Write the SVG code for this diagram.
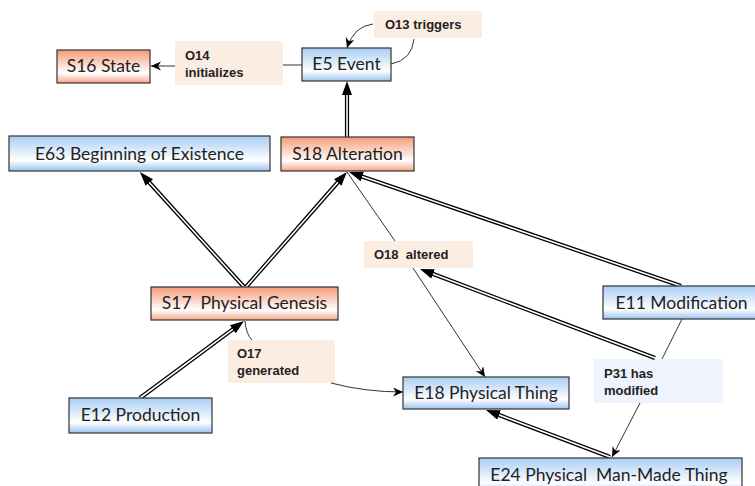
<svg xmlns="http://www.w3.org/2000/svg" width="755" height="486" viewBox="0 0 755 486">
  <defs>
    <linearGradient id="gBlue" x1="0" y1="0" x2="0" y2="1">
      <stop offset="0" stop-color="#a9cdf3"/>
      <stop offset="0.7" stop-color="#ffffff"/>
      <stop offset="1" stop-color="#9ac3ef"/>
    </linearGradient>
    <linearGradient id="gOrange" x1="0" y1="0" x2="0" y2="1">
      <stop offset="0" stop-color="#f59b78"/>
      <stop offset="0.7" stop-color="#ffffff"/>
      <stop offset="1" stop-color="#f4a585"/>
    </linearGradient>
    <marker id="headBig" markerUnits="userSpaceOnUse" markerWidth="16" markerHeight="12" viewBox="0 0 16 12" refX="2" refY="5" orient="auto">
      <path d="M0,0 L14,5 L0,10 z" fill="#000"/>
    </marker>
    <marker id="headThin" markerUnits="userSpaceOnUse" markerWidth="12" markerHeight="10" viewBox="0 0 12 10" refX="10" refY="4.5" orient="auto">
      <path d="M0,0 L10,4.5 L0,9 L3,4.5 z" fill="#000"/>
    </marker>
  </defs>
  <style>
    .box { stroke: #333; stroke-width: 1.2; }
    .blue { fill: url(#gBlue); }
    .orange { fill: url(#gOrange); }
    .nt { font-family: Lato, "Open Sans", sans-serif; font-size: 17.5px; fill: #222; text-anchor: middle; }
    .lbl { fill: #fcede2; }
    .lblb { fill: #eef3fd; }
    .lt { font-family: "Liberation Sans", Arial, sans-serif; font-size: 13px; font-weight: bold; fill: #222; }
    .outer { fill: none; stroke: #000; stroke-width: 4.2; }
    .inner { fill: none; stroke: #fff; stroke-width: 1.6; marker-end: url(#headBig); }
    .thin { fill: none; stroke: #333; stroke-width: 1; }
    .thinA { fill: none; stroke: #333; stroke-width: 1; marker-end: url(#headThin); }
  </style>

  <!-- relation labels -->
  <g id="lbl-o14"><rect class="lbl" x="175" y="41" width="108" height="44"/><text class="lt" x="185" y="60">O14</text><text class="lt" x="185" y="77">initializes</text></g>
  <g id="lbl-o13"><rect class="lbl" x="374" y="11" width="108" height="27"/><text class="lt" x="385" y="29">O13 triggers</text></g>
  <g id="lbl-o18"><rect class="lbl" x="364" y="241" width="109" height="27"/><text class="lt" x="374" y="259" xml:space="preserve">O18  altered</text></g>
  <g id="lbl-o17"><rect class="lbl" x="228" y="340" width="107" height="43"/><text class="lt" x="237" y="358">O17</text><text class="lt" x="237" y="375">generated</text></g>
  <g id="lbl-p31"><rect class="lblb" x="594" y="359" width="129" height="44"/><text class="lt" x="604" y="378">P31 has</text><text class="lt" x="604" y="395">modified</text></g>

  <!-- connectors -->
  <g id="connectors">
    <!-- double-line generalisation arrows -->
    <path class="outer" d="M347,137 L347,93"/><path class="inner" d="M347,137 L347,93"/>
    <path class="outer" d="M244,287 L148,181"/><path class="inner" d="M244,287 L148,181"/>
    <path class="outer" d="M246,287 L339,181"/><path class="inner" d="M246,287 L339,181"/>
    <path class="outer" d="M681,286 L360.4,175.9"/><path class="inner" d="M681,286 L360.4,175.9"/>
    <path class="outer" d="M655,358 L431.2,273.3"/><path class="inner" d="M655,358 L431.2,273.3"/>
    <path class="outer" d="M610,457 L497.2,414.3"/><path class="inner" d="M610,457 L497.2,414.3"/>
    <path class="outer" d="M140,398 L234.4,328.1"/><path class="inner" d="M140,398 L234.4,328.1"/>

    <!-- thin property arrows -->
    <path class="thin" d="M302,65 L283,65"/>
    <path class="thinA" d="M175,66 L151,66"/>
    <path class="thin" d="M391,64 Q412,60 414,39"/>
    <path class="thinA" d="M373,24 Q354,26 347,48"/>
    <path class="thin" d="M347,172 L395,241"/>
    <path class="thinA" d="M413,268 L485,377"/>
    <path class="thin" d="M682,319 L662,359"/>
    <path class="thinA" d="M640,403 L612,457"/>
    <path class="thin" d="M245,321 Q246,334 252,340"/>
    <path class="thinA" d="M331,383 Q365,392 403,392"/>
  </g>

  <!-- classes -->
  <g id="s16"><rect class="box orange" x="57" y="50" width="93" height="33"/><text class="nt" x="103.5" y="72">S16 State</text></g>
  <g id="e5"><rect class="box blue" x="302" y="48" width="89" height="33"/><text class="nt" x="346.5" y="70">E5 Event</text></g>
  <g id="e63"><rect class="box blue" x="9" y="136" width="261" height="35"/><text class="nt" x="139.5" y="160">E63 Beginning of Existence</text></g>
  <g id="s18"><rect class="box orange" x="281" y="137" width="133" height="34"/><text class="nt" x="347.5" y="160">S18 Alteration</text></g>
  <g id="s17"><rect class="box orange" x="151" y="287" width="187" height="33"/><text class="nt" x="244.5" y="309" xml:space="preserve">S17  Physical Genesis</text></g>
  <g id="e12"><rect class="box blue" x="69" y="398" width="143" height="35"/><text class="nt" x="140.5" y="421">E12 Production</text></g>
  <g id="e18"><rect class="box blue" x="403" y="377" width="166" height="32"/><text class="nt" x="486" y="399">E18 Physical Thing</text></g>
  <g id="e11"><rect class="box blue" x="603" y="286" width="155" height="33"/><text class="nt" x="681.5" y="309">E11 Modification</text></g>
  <g id="e24"><rect class="box blue" x="479" y="458" width="263" height="36"/><text class="nt" x="609" y="481" xml:space="preserve">E24 Physical  Man-Made Thing</text></g>
</svg>
